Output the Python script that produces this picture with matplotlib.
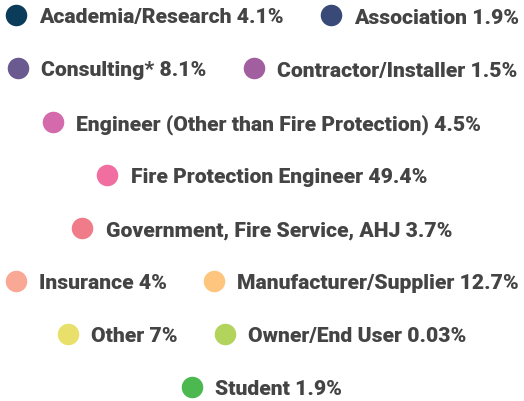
import matplotlib
matplotlib.use("Agg")
import matplotlib.pyplot as plt
from matplotlib.lines import Line2D

categories = [
    "Academia/Research", "Association", "Consulting*", "Contractor/Installer",
    "Engineer (Other than Fire Protection)", "Fire Protection Engineer",
    "Government, Fire Service, AHJ", "Insurance", "Manufacturer/Supplier",
    "Other", "Owner/End User", "Student",
]
value_labels = ["4.1%", "1.9%", "8.1%", "1.5%", "4.5%", "49.4%", "3.7%",
                "4%", "12.7%", "7%", "0.03%", "1.9%"]
colors = ["#0b3d5b", "#3a4a78", "#6a5a8f", "#a25fa0", "#d46aab", "#f06ea0",
          "#f07c8a", "#f8a895", "#fec57e", "#e8e06a", "#b2d35c", "#4cb850"]
rows = [[0, 1], [2, 3], [4], [5], [6], [7, 8], [9, 10], [11]]

W, H, DPI = 524, 402, 100
fig = plt.figure(figsize=(W / DPI, H / DPI), dpi=DPI)
fig.patch.set_facecolor("white")

fs = 15.2
row_y = [18, 71, 125, 178, 231, 284, 337, 390]
for r, yc in zip(rows, row_y):
    handles = [Line2D([], [], marker="o", linestyle="none", markersize=15.5,
                      markerfacecolor=colors[i], markeredgecolor="none")
               for i in r]
    labels = [f"{categories[i]} {value_labels[i]}" for i in r]
    leg = fig.legend(handles, labels, loc="center",
                     bbox_to_anchor=(0.5, 1 - yc / H), ncol=len(r),
                     frameon=False, handlelength=1.0, handletextpad=0.6,
                     columnspacing=1.75, borderpad=0, borderaxespad=0,
                     prop={"family": "Roboto", "weight": 900, "size": fs})
    for t in leg.get_texts():
        t.set_color("#444444")

fig.savefig("out.png", dpi=DPI, facecolor="white")
